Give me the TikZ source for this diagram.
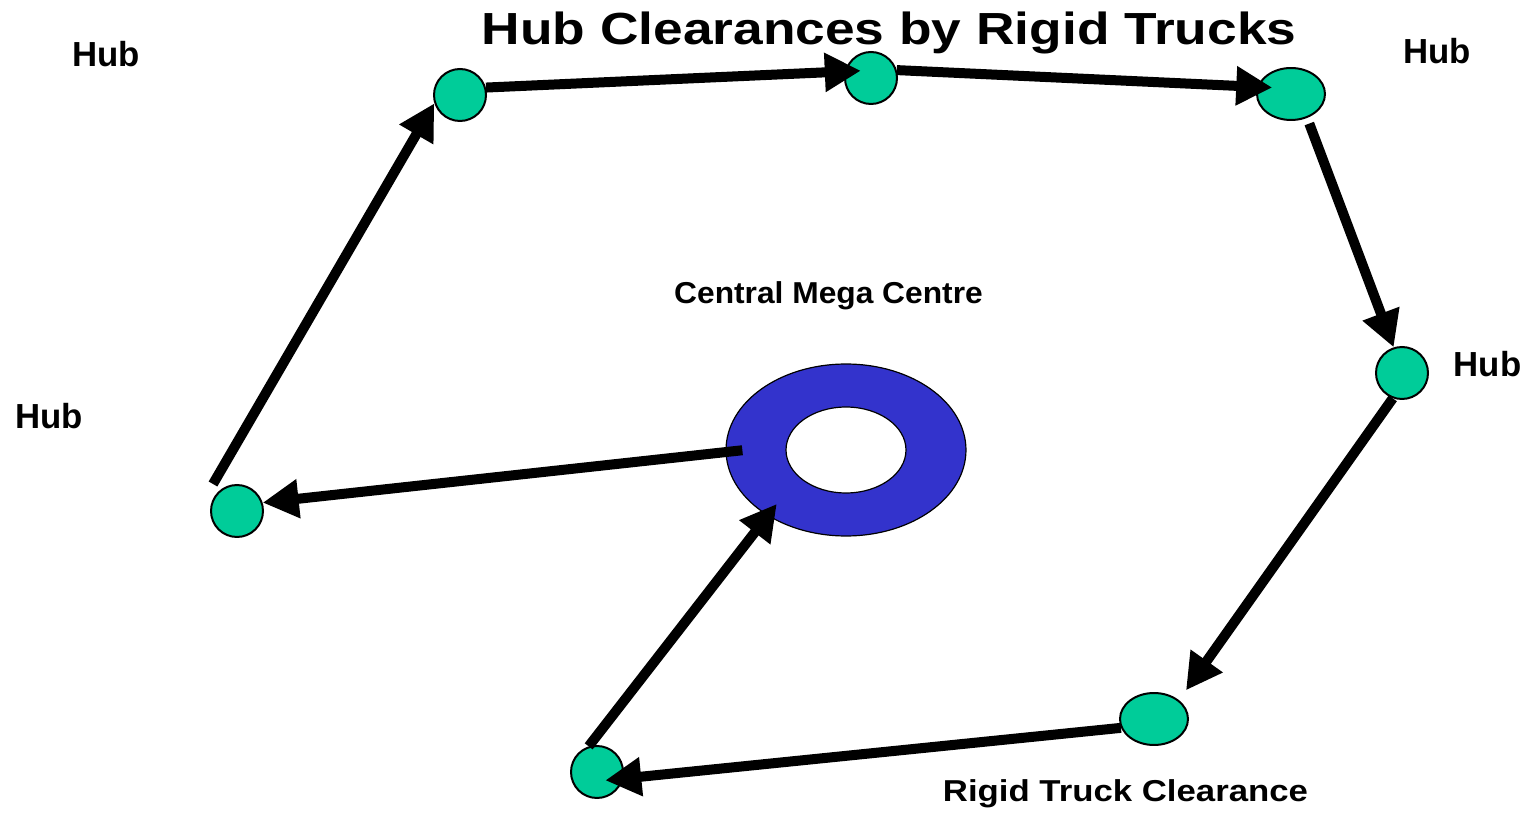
\documentclass[tikz,border=0pt]{standalone}
\usepackage{fontspec}
\setmainfont{Liberation Sans}
\usetikzlibrary{arrows.meta,shapes.geometric,calc}
\definecolor{hubgreen}{RGB}{0,204,153}
\definecolor{megablue}{RGB}{51,51,204}
\tikzset{
  hub/.style={circle, draw=black, line width=0.04cm, fill=hubgreen, minimum size=1.04cm, inner sep=0pt},
  hubwide/.style={ellipse, draw=black, line width=0.04cm, fill=hubgreen, minimum width=1.36cm, minimum height=1.04cm, inner sep=0pt},
  flow/.style={line width=0.2cm, -{Triangle[length=0.72cm,width=0.74cm]}},
  hublbl/.style={font=\fontsize{19.8pt}{23pt}\selectfont\bfseries, inner sep=0pt, anchor=base},
  lbl/.style={font=\fontsize{17.2pt}{21pt}\selectfont\bfseries, inner sep=0pt, anchor=base},
  ttl/.style={font=\fontsize{25.6pt}{30pt}\selectfont\bfseries, inner sep=0pt, anchor=base}
}
\begin{document}
\begin{tikzpicture}[x=0.02cm,y=-0.02cm]
\useasboundingbox (0,0) rectangle (1526,817);
% texts
\node[ttl] (title) at (889,45) {\scalebox{1.185}[1]{Hub Clearances by Rigid Trucks}};
\node[hublbl] (l1) at (106,66.7) {Hub};
\node[hublbl] (l2) at (1437,63.7) {Hub};
\node[hublbl] (l3) at (1487.5,376.7) {Hub};
\node[hublbl] (l4) at (49,428.5) {Hub};
\node[lbl] (l5) at (828.5,303.3) {\scalebox{1.05}[1]{Central Mega Centre}};
\node[lbl] (l6) at (1125.5,801.7) {\scalebox{1.15}[1]{Rigid Truck Clearance}};
% mega centre
\node[ellipse, draw=black, line width=0.024cm, fill=megablue, minimum width=4.8cm, minimum height=3.44cm, inner sep=0pt] (M) at (846,450) {};
\node[ellipse, draw=black, line width=0.024cm, fill=white, minimum width=2.4cm, minimum height=1.72cm, inner sep=0pt] (Mi) at (846,450) {};
% hubs
\node[hub] (A) at (460,95) {};
\node[hub] (B) at (871,78) {};
\node[hubwide] (C) at (1291,94) {};
\node[hub] (D) at (1402,373) {};
\node[hubwide] (E) at (1154,719) {};
\node[hub] (F) at (597,772) {};
\node[hub] (G) at (237,511) {};
% connectors
\draw[flow, shorten >=-0.32cm] (A.16) -- (B.166);
\draw[flow, shorten >=-0.3cm] (B.17) -- (C.168);
\draw[flow, shorten <=0.12cm] (C.-56) -- (D.108);
\draw[flow, shorten >=0.24cm] (D.-110) -- (E.37);
\draw[flow, shorten >=-0.36cm] (E.195) -- (F.-14);
\draw[flow, shorten >=-0.3cm] (F.108) -- (M.220);
\draw[flow, shorten <=-0.34cm] (M.181) -- (G.18);
\draw[flow] ($(G.center)+(-24,-27)$) -- (A.198);
\end{tikzpicture}
\end{document}
